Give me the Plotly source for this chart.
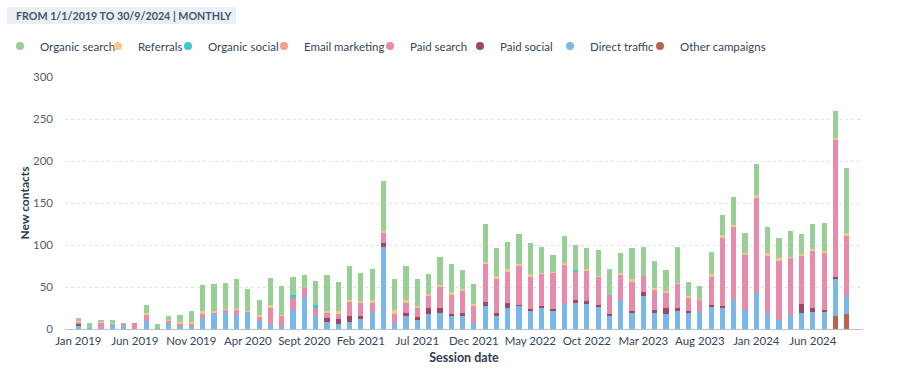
import plotly.graph_objects as go

# ---------------- data (monthly, Jan 2019 .. Sep 2024) ----------------
tick_labels = ["Jan 2019", "Jun 2019", "Nov 2019", "Apr 2020", "Sept 2020", "Feb 2021",
               "Jul 2021", "Dec 2021", "May 2022", "Oct 2022", "Mar 2023", "Aug 2023",
               "Jan 2024", "Jun 2024"]

other_campaigns = [0]*67 + [15, 18]

direct_traffic = [3, 1, 0, 6, 4, 0, 10, 1, 8, 3, 2, 13,
                  18, 21, 17, 20, 10, 6, 4, 23, 38, 15, 8, 6,
                  8, 12, 20, 98, 7, 16, 11, 18, 19, 16, 15, 7,
                  27, 15, 25, 28, 22, 25, 22, 30, 32, 30, 26, 16,
                  34, 20, 39, 19, 18, 22, 20, 20, 27, 26, 34, 23,
                  43, 19, 11, 17, 19, 20, 21, 44, 21]

paid_social = [3, 0, 0, 0, 0, 0, 0, 0, 0, 0, 0, 0,
               0, 0, 0, 0, 0, 0, 0, 0, 0, 0, 5, 6,
               7, 3, 0, 4, 0, 3, 3, 7, 6, 2, 4, 0,
               5, 4, 6, 1, 2, 2, 2, 0, 2, 3, 3, 2,
               0, 2, 5, 4, 7, 3, 2, 0, 1, 1, 0, 0,
               0, 0, 0, 0, 11, 5, 2, 3, 0]

paid_search = [2, 0, 8, 0, 2, 7, 7, 0, 2, 4, 5, 6,
               2, 2, 6, 1, 5, 20, 12, 15, 11, 11, 7, 7,
               18, 17, 12, 12, 11, 12, 11, 15, 25, 22, 27, 20,
               45, 41, 38, 46, 39, 39, 43, 47, 35, 36, 33, 23,
               31, 35, 19, 24, 18, 29, 15, 15, 35, 81, 88, 65,
               114, 69, 70, 68, 58, 68, 68, 164, 72]

email_marketing = [1] + [0]*68

organic_social = [0]*19 + [2, 0, 2] + [0]*22 + [1] + [0]*24

referrals = [1, 0, 1, 1, 0, 0, 2, 0, 1, 1, 1, 2,
             1, 1, 1, 1, 2, 2, 1, 0, 0, 0, 2, 2,
             2, 1, 2, 3, 5, 3, 2, 2, 2, 4, 2, 3,
             3, 3, 2, 2, 2, 1, 1, 2, 0, 3, 1, 0,
             2, 2, 0, 2, 2, 1, 2, 1, 2, 4, 2, 3,
             2, 2, 3, 1, 1, 2, 2, 1, 3]

organic_search = [3, 6, 2, 4, 1, 0, 9, 5, 5, 9, 13, 31,
                  32, 31, 35, 26, 17, 33, 34, 22, 15, 29, 42, 35,
                  40, 34, 37, 59, 37, 41, 32, 24, 34, 33, 22, 24,
                  45, 33, 33, 36, 37, 31, 20, 32, 30, 25, 31, 30,
                  23, 37, 35, 32, 25, 43, 17, 15, 27, 24, 33, 23,
                  38, 32, 24, 31, 24, 30, 33, 32, 78]

# stacking order: bottom -> top
series = [
    ("Other campaigns", other_campaigns, "#b9644c"),
    ("Direct traffic", direct_traffic, "#7ab8ea"),
    ("Paid social", paid_social, "#9b4867"),
    ("Paid search", paid_search, "#e68bab"),
    ("Email marketing", email_marketing, "#f3a08b"),
    ("Organic social", organic_social, "#3ec6cf"),
    ("Referrals", referrals, "#f4c88c"),
    ("Organic search", organic_search, "#98cf95"),
]

x = list(range(len(direct_traffic)))
tick_vals = x[::5]

fig = go.Figure()
for name, vals, col in series:
    fig.add_trace(go.Bar(x=x, y=vals, name=name, marker=dict(color=col, line=dict(width=0)),
                         width=0.46, showlegend=False))

PL, PR, PT, PB = 65, 863, 77, 329
W, H = 900, 382

# legend entries (round markers), one legend per entry for exact placement
legend_text_px = {"Organic search": 32, "Referrals": 133, "Organic social": 203,
                  "Email marketing": 299, "Paid search": 405, "Paid social": 495,
                  "Direct traffic": 585, "Other campaigns": 675}
order = ["Organic search", "Referrals", "Organic social", "Email marketing",
         "Paid search", "Paid social", "Direct traffic", "Other campaigns"]
colmap = {n: c for n, _, c in series}
legend_layouts = {}
for i, name in enumerate(order):
    lid = "legend" if i == 0 else f"legend{i+1}"
    fig.add_trace(go.Scatter(x=[None], y=[None], mode="markers", name=name,
                             marker=dict(color=colmap[name], size=8, symbol="circle"),
                             legend=lid, showlegend=True))
    left_px = max(legend_text_px[name] - 35, 0)
    legend_layouts[lid] = dict(
        xref="container", yref="container",
        x=left_px / W, xanchor="left",
        y=1 - 46 / H, yanchor="middle",
        orientation="h", bgcolor="rgba(0,0,0,0)", borderwidth=0,
        font=dict(family="Lato, sans-serif", size=11.5, color="#33475b"),
        itemclick=False, itemdoubleclick=False,
    )
fig.update_layout(**legend_layouts)

# header chip
fig.add_shape(type="rect", xref="paper", yref="paper",
              x0=(7 - PL) / (PR - PL), x1=(236 - PL) / (PR - PL),
              y0=1 + (PT - 24) / (PB - PT), y1=1 + (PT - 7) / (PB - PT),
              fillcolor="#eaf0f6", line=dict(width=0), layer="below")
fig.add_annotation(text="<b>FROM 1/1/2019 TO 30/9/2024 | MONTHLY</b>",
                   xref="paper", yref="paper",
                   x=(14 - PL) / (PR - PL), xanchor="left",
                   y=1 + (PT - 15.5) / (PB - PT), yanchor="middle",
                   showarrow=False,
                   font=dict(family="Lato, sans-serif", size=10.7, color="#3e5570"))

fig.update_layout(
    width=W, height=H,
    margin=dict(l=PL, r=W - PR, t=PT, b=H - PB, pad=0, autoexpand=False),
    barmode="stack",
    plot_bgcolor="white", paper_bgcolor="white",
    font=dict(family="Lato, sans-serif", color="#33475b"),
    xaxis=dict(
        range=[-1.18, 69.44],
        tickmode="array", tickvals=tick_vals, ticktext=tick_labels,
        tickfont=dict(size=11.5, color="#33475b"),
        showgrid=False, zeroline=False,
        showline=True, linecolor="#b8c2cc", linewidth=1,
        ticks="", ticklabelstandoff=1,
        title=dict(text="<b>Session date</b>", font=dict(size=12.5, color="#2d3e50"), standoff=7),
    ),
    yaxis=dict(
        range=[0, 300], tickvals=[0, 50, 100, 150, 200, 250, 300],
        tickfont=dict(size=11.5, color="#555f6b"),
        showgrid=True, gridcolor="#dfe3e8", griddash="dot", gridwidth=1,
        zeroline=False, showline=False, ticks="", ticklabelstandoff=11,
        title=dict(text="<b>New contacts</b>", font=dict(size=12, color="#2d3e50"), standoff=0),
    ),
)

fig.write_html("out.html",
               config={"displayModeBar": False},
               post_script="document.body.style.margin='0';document.body.style.padding='0';")
